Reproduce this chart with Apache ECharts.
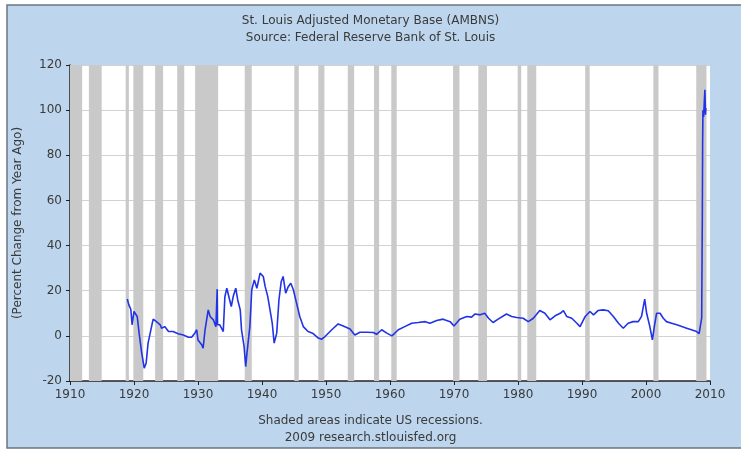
<!DOCTYPE html>
<html>
<head>
<meta charset="utf-8">
<script src="https://cdn.jsdelivr.net/npm/echarts@6/dist/echarts.min.js"></script>
<style>
html,body{margin:0;padding:0;background:#ffffff;}
#chart{width:741px;height:450px;}
</style>
</head>
<body>
<div id="chart"></div>
<script>
const titleLines = ["St. Louis Adjusted Monetary Base (AMBNS)", "Source: Federal Reserve Bank of St. Louis"];
const footerLines = ["Shaded areas indicate US recessions.", "2009 research.stlouisfed.org"];
const yAxisName = "(Percent Change from Year Ago)";

const years = [
1918.95,1919.2,1919.5,1919.7,1920.0,1920.3,1920.5,1920.8,1921.2,1921.6,1921.9,1922.2,1922.8,1923.0,1923.5,1924.1,1924.3,1924.8,1925.4,1926.1,1926.9,1927.7,1928.5,1929.0,1929.5,1929.8,1930.0,1930.6,1930.8,1931.1,1931.6,1931.9,1932.4,1932.8,1932.95,1933.0,1933.05,1933.4,1933.95,
1934.2,1934.5,1934.8,1935.2,1935.5,1935.9,1936.2,1936.6,1936.8,1937.2,1937.45,1937.65,1937.9,1938.1,1938.4,1938.8,1939.2,1939.7,1940.2,1940.5,1940.9,1941.25,1941.6,1941.9,1942.3,1942.65,1943.0,1943.3,1943.7,1944.1,1944.5,1944.9,1945.4,1945.9,1946.45,1947.2,1947.9,1948.8,1949.3,1949.85,
1950.9,1951.9,1952.7,1953.75,1954.5,1955.3,1956.4,1957.4,1957.9,1958.7,1959.5,1960.3,1961.3,1962.3,1963.4,1964.4,1965.5,1966.25,1967.3,1968.3,1969.4,1970.0,1970.9,1972.0,1972.75,1973.3,1974.1,1974.8,1975.4,1976.1,1976.9,1978.2,1979.0,1979.8,
1980.8,1981.6,1982.4,1983.4,1984.2,1985.0,1985.8,1986.6,1987.1,1987.6,1988.4,1989.2,1989.7,1990.5,1991.25,1991.8,1992.5,1993.3,1994.1,1994.9,1995.7,1996.45,1997.2,1998.0,1998.8,1999.3,1999.8,2000.1,2000.6,2001.0,2001.3,2001.65,2002.2,2002.7,2003.2,2004.0,2004.8,2005.6,2006.35,2007.1,2007.9,2008.3,2008.55,2008.7,2008.8,2008.85,2008.9,2009.0,2009.1,2009.2,2009.3,2009.35
];
const values = [
16.3,13.7,11.8,4.9,10.8,10.8,8.6,1.2,-7.5,-14.3,-12,-3.2,4.9,7.4,6.3,4.9,3.4,4.1,1.9,1.9,0.9,0.4,-0.6,-0.6,1.2,2.7,-1.8,-4.0,-5.5,2.7,11.5,8.6,7.1,4.1,4.5,20.7,4.9,4.9,1.9,
17.4,21.1,21.8,13,17.4,21.1,16,11.5,2.7,-4.7,-13.6,-7.7,-7,4.1,20.4,24.8,21.1,27.8,26.3,21.8,17.4,11.5,5.6,-3.2,1.2,16,24,26.3,18.9,21.8,23.3,20.4,14.5,8.6,4.1,1.9,1.2,-1.0,-1.5,-0.3,
2.7,5.3,4.4,3.0,0.4,1.6,1.6,1.5,0.7,2.7,1.2,0,2.7,4.1,5.6,5.9,6.3,5.6,6.8,7.4,6.3,4.4,7.4,8.6,8.3,9.7,9.3,10,7.8,5.9,7.4,9.7,8.6,8.1,
7.8,6.3,7.8,11.2,10,7.1,8.9,10,11.2,8.6,7.8,5.6,4.1,8.6,10.8,9.3,11.2,11.5,11.1,8.6,5.6,3.4,5.6,6.3,6.3,8.6,16.3,10,4.1,-1.8,4.1,10,10,7.8,6.3,5.6,4.9,4.1,3.4,2.7,1.9,1.0,1.5,8,52,86,100,97,103,109,98,101
];

const recessionStarts = [1910.0,1912.95,1918.7,1919.9,1923.3,1926.75,1929.55,1937.3,1945.05,1948.8,1953.4,1957.5,1960.2,1969.85,1973.8,1979.95,1981.45,1990.5,2001.15,2007.85];
const recessionEnds   = [1911.9,1914.95,1919.2,1921.45,1924.55,1927.85,1933.15,1938.4,1945.75,1949.75,1954.4,1958.3,1961.05,1970.85,1975.15,1980.5,1982.85,1991.2,2001.95,2009.45];

const xTicks = {min:1910, max:2010, interval:10};
const yTicks = {min:-20, max:120, interval:20};

const lineData = years.map((y,i)=>[y, values[i]]);
const recessionAreas = recessionStarts.map((s,i)=>[{xAxis:s},{xAxis:recessionEnds[i]}]);

const textColor = '#3a3a3a';
const font = 'DejaVu Sans';

const chart = echarts.init(document.getElementById('chart'), null, {renderer:'canvas'});
chart.setOption({
  animation:false,
  backgroundColor:'#ffffff',
  graphic:[
    {type:'rect', z:-10, shape:{x:7,y:5,width:740,height:443},
     style:{fill:'#bdd6ee', stroke:'#6b7580', lineWidth:1.5}},
    {type:'rect', z:-9, shape:{x:70,y:65,width:640,height:316},
     style:{fill:'#ffffff'}},
    {type:'text', left:'center', top:12, style:{text:titleLines.join('\n'), fill:textColor, font:'12px "DejaVu Sans"', lineHeight:17, textAlign:'center'}},
    {type:'text', left:'center', top:412, style:{text:footerLines.join('\n'), fill:textColor, font:'12px "DejaVu Sans"', lineHeight:17, textAlign:'center'}}
  ],
  grid:{left:70, right:31, top:65, bottom:69, containLabel:false},
  xAxis:{
    type:'value', min:xTicks.min, max:xTicks.max, interval:xTicks.interval,
    axisLine:{show:true, onZero:false, lineStyle:{color:'#222', width:1.5}},
    axisTick:{show:true, length:4, lineStyle:{color:'#222'}},
    axisLabel:{color:textColor, fontFamily:font, fontSize:12, margin:8, formatter:v=>String(v)},
    splitLine:{show:false}
  },
  yAxis:{
    type:'value', min:yTicks.min, max:yTicks.max, interval:yTicks.interval,
    name:yAxisName, nameLocation:'middle', nameGap:46, nameRotate:90,
    nameTextStyle:{color:textColor, fontFamily:font, fontSize:12},
    axisLine:{show:true, lineStyle:{color:'#222', width:1.5}},
    axisTick:{show:true, length:4, lineStyle:{color:'#222'}},
    axisLabel:{color:textColor, fontFamily:font, fontSize:12, margin:8},
    splitLine:{show:true, lineStyle:{color:'#d2d2d2', width:1}}
  },
  series:[{
    type:'line', data:lineData, showSymbol:false, symbol:'none',
    lineStyle:{color:'#2233e6', width:1.6},
    markArea:{silent:true, itemStyle:{color:'#c9c9c9'}, data:recessionAreas}
  }]
});
</script>
</body>
</html>
